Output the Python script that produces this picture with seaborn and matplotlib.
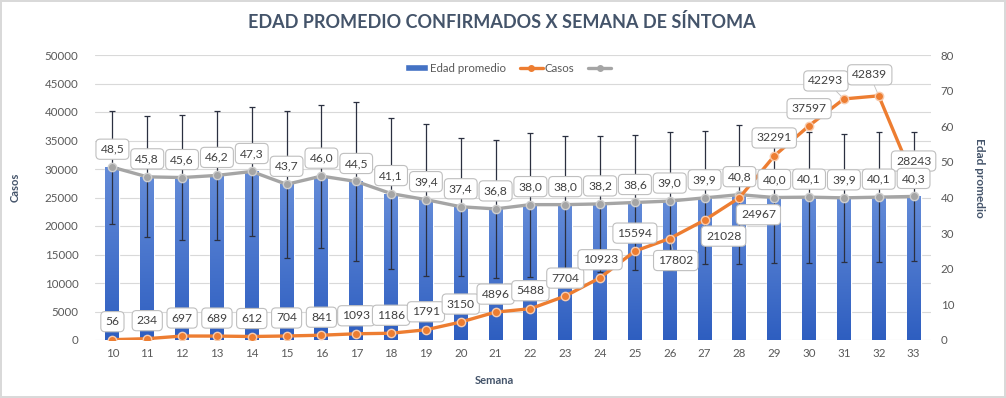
import numpy as np
import pandas as pd
import matplotlib
matplotlib.use("Agg")
import matplotlib.pyplot as plt
import seaborn as sns
from matplotlib.colors import LinearSegmentedColormap
from matplotlib.lines import Line2D
from matplotlib.patches import Patch

# ---------------- data ----------------
semanas = [10, 11, 12, 13, 14, 15, 16, 17, 18, 19, 20, 21,
           22, 23, 24, 25, 26, 27, 28, 29, 30, 31, 32, 33]
casos = [56, 234, 697, 689, 612, 704, 841, 1093, 1186, 1791, 3150, 4896,
         5488, 7704, 10923, 15594, 17802, 21028, 24967, 32291, 37597, 42293, 42839, 28243]
edad_promedio = [48.5, 45.8, 45.6, 46.2, 47.3, 43.7, 46.0, 44.5, 41.1, 39.4, 37.4, 36.8,
                 38.0, 38.0, 38.2, 38.6, 39.0, 39.9, 40.8, 40.0, 40.1, 39.9, 40.1, 40.3]
edad_desv = [15.8, 17.0, 17.5, 18.2, 18.2, 20.6, 20.1, 22.4, 21.3, 21.3, 19.3, 19.3,
             20.2, 19.4, 19.2, 19.0, 19.4, 18.7, 19.5, 18.5, 18.4, 18.0, 18.3, 18.0]
casos_ticks = list(range(0, 50001, 5000))
edad_ticks = list(range(0, 81, 10))

titulo = "EDAD PROMEDIO CONFIRMADOS X SEMANA DE SÍNTOMA"

# label offsets in pixels (for casos labels that are not placed straight above)
casos_offsets = {26: (6, -22), 27: (19, -16), 28: (19, -17), 30: (0, 17),
                 31: (-18, 18), 32: (-9, 21)}
leader_weeks = {26, 31, 32}

# ---------------- style ----------------
sns.set_theme(style="white")
plt.rcParams["font.family"] = ["Lato", "DejaVu Sans"]

BLUE = "#4472C4"
ORANGE = "#ED7D31"
GRAY = "#A5A5A5"
TITLE_C = "#44546A"
TICK_C = "#595959"
LABEL_C = "#404040"

W, H = 1006, 398
fig = plt.figure(figsize=(W / 100, H / 100), dpi=100,
                 edgecolor="#D9D9D9", linewidth=1.5)
ax = fig.add_axes([95 / W, 1 - 340 / H, 836 / W, 285 / H])
ax2 = ax.twinx()
ax3 = ax.twinx()

x = np.arange(len(semanas))
df = pd.DataFrame({"Semana": [str(s) for s in semanas],
                   "Edad": edad_promedio, "Casos": casos, "x": x})

# bars (edad promedio, right axis)
sns.barplot(data=df, x="Semana", y="Edad", ax=ax2, color=BLUE, width=0.4,
            errorbar=None, saturation=1, zorder=2)
cmap = LinearSegmentedColormap.from_list("g", ["#2E5EC0", "#638BD8"])
grad = np.linspace(0, 1, 256).reshape(-1, 1)
for p in list(ax2.patches):
    x0, w, h = p.get_x(), p.get_width(), p.get_height()
    im = ax2.imshow(grad, extent=[x0, x0 + w, 0, h], origin="lower",
                    aspect="auto", cmap=cmap, zorder=2.1)
    im.set_clip_path(p)

ax2.errorbar(x, edad_promedio, yerr=edad_desv, fmt="none", ecolor="#2B3040",
             elinewidth=0.9, capsize=2.3, capthick=0.9, zorder=3)

sns.lineplot(x=x, y=edad_promedio, ax=ax2, color=GRAY, lw=2.4, marker="o",
             markersize=6, markerfacecolor=GRAY, markeredgecolor="#CFCFCF",
             markeredgewidth=1, zorder=4, legend=False)

# casos line (left axis scale, top layer)
sns.lineplot(x=x, y=casos, ax=ax3, color=ORANGE, lw=2.4, marker="o",
             markersize=6, markerfacecolor=ORANGE, markeredgecolor="#F8CBAD",
             markeredgewidth=1, zorder=4, legend=False)

# ---------------- axes ----------------
ax.set_ylim(0, 50000)
ax3.set_ylim(0, 50000)
ax2.set_ylim(0, 80)
ax.set_xlim(-0.5, len(semanas) - 0.5)
ax2.set_xlim(-0.5, len(semanas) - 0.5)

ax.set_yticks(casos_ticks)
ax.set_yticklabels([str(t) for t in casos_ticks])
ax.set_xticks(x)
ax.set_xticklabels([str(s) for s in semanas])
ax.yaxis.grid(True, color="#D9D9D9", lw=0.8)
ax.xaxis.grid(False)
ax.tick_params(axis="y", length=0, pad=12, labelsize=8.3, labelcolor=TICK_C)
ax.tick_params(axis="x", length=0, pad=6, labelsize=8.3, labelcolor=TICK_C)
ax.set_xlabel("")
ax.set_ylabel("")

ax2.set_yticks(edad_ticks)
ax2.set_yticklabels([str(t) for t in edad_ticks])
ax2.tick_params(axis="y", length=0, pad=7, labelsize=8.3, labelcolor=TICK_C)
ax2.set_xlabel("")
ax2.set_ylabel("")
ax2.grid(False)

ax3.set_yticks([])
ax3.set_ylabel("")
ax3.grid(False)

for a in (ax, ax2, ax3):
    for s in a.spines.values():
        s.set_visible(False)

# ---------------- data labels ----------------
bbox = dict(boxstyle="round,pad=0.38,rounding_size=0.35", fc="white",
            ec="#BFBFBF", lw=0.8)
for xi, s, v in zip(x, semanas, casos):
    dx, dy = casos_offsets.get(s, (0, 18))
    arrow = (dict(arrowstyle="-", color="#BFBFBF", lw=0.6, shrinkA=0, shrinkB=3)
             if s in leader_weeks else None)
    ax3.annotate(str(v), (xi, v), xytext=(dx, dy), textcoords="offset pixels",
                 ha="center", va="center", fontsize=8.7, color=LABEL_C,
                 bbox=bbox, arrowprops=arrow, zorder=6)
for xi, e in zip(x, edad_promedio):
    ax3.annotate(f"{e:.1f}".replace(".", ","), (xi, e), xycoords=ax2.transData,
                 xytext=(0, 18), textcoords="offset pixels", ha="center",
                 va="center", fontsize=8.7, color=LABEL_C, bbox=bbox, zorder=6)

# ---------------- legend ----------------
handles = [
    Patch(facecolor=BLUE, label="Edad promedio"),
    Line2D([0], [0], color=ORANGE, lw=2.4, marker="o", ms=4, label="Casos"),
    Line2D([0], [0], color=GRAY, lw=2.4, marker="o", ms=4, label=" "),
]
ax3.legend(handles=handles, loc="center", bbox_to_anchor=(0.497, 0.954), ncol=3,
           frameon=False, fontsize=8.3, handlelength=2.0, handleheight=0.6,
           columnspacing=1.2, handletextpad=0.15, labelcolor=TICK_C)

# ---------------- titles ----------------
fig.text(502 / W, 1 - 22 / H, titulo, ha="center", va="center", fontsize=13,
         fontweight="bold", color=TITLE_C)
fig.text(494 / W, 1 - 380 / H, "Semana", ha="center", va="center", fontsize=8,
         fontweight="bold", color=TITLE_C)
fig.text(15 / W, 1 - 187 / H, "Casos", ha="center", va="center", fontsize=8,
         fontweight="bold", color=TITLE_C, rotation=90)
fig.text(979 / W, 1 - 178 / H, "Edad promedio", ha="center", va="center",
         fontsize=8.5, fontweight="bold", color=TITLE_C, rotation=270)

fig.savefig("out.png", dpi=100)
